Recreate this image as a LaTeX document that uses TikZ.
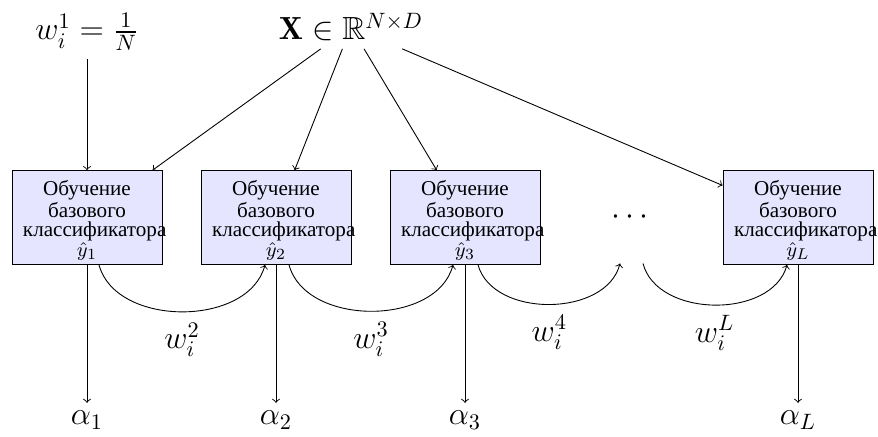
\documentclass[tikz,border=0pt]{standalone}
\usepackage{fontspec}
\usepackage{amssymb}
\newfontfamily\cyrfont{Liberation Serif}
\usetikzlibrary{calc}
\newcommand{\boxtext}[1]{\rule{0pt}{9.2pt}Обучение\\базового\\классификатора\\$\hat{y}_{#1}$}
\begin{document}
\begin{tikzpicture}[x=0.45pt,y=-0.45pt,
  box/.style={draw, fill=blue!10, minimum width=67.5pt, minimum height=40.95pt,
    text width=57.6pt, align=center, inner sep=2pt,
    font=\cyrfont\fontsize{9.5pt}{8.7pt}\selectfont},
  lbl/.style={font=\Large},
  arr/.style={->},
  wlbl/.style={font=\Large, midway, yshift=-12.6pt},
  curv/.style={->, bend right=75}
]
\useasboundingbox (0,0) rectangle (878,436);
\node[box] (b1) at (87,217.5) {\boxtext{1}};
\node[box] (b2) at (276,217.5) {\boxtext{2}};
\node[box] (b3) at (465,217.5) {\boxtext{3}};
\node[minimum height=40.95pt, font=\Large] (dots) at (630,217.5) {$\cdots$};
\node[box] (bL) at (798,217.5) {\boxtext{L}};

\node[lbl] (w1) at (87,32) {$w_i^1=\frac{1}{N}$};
\node[lbl] (X) at (351,27) {$\mathbf{X}\in\mathbb{R}^{N\times D}$};

\node[lbl] (a1) at (87,420) {$\alpha_1$};
\node[lbl] (a2) at (276,420) {$\alpha_2$};
\node[lbl] (a3) at (465,420) {$\alpha_3$};
\node[lbl] (aL) at (798,420) {$\alpha_L$};

\draw[arr] (w1) -- (b1);
\draw[arr] (X) -- (b1);
\draw[arr] (X) -- (b2);
\draw[arr] (X) -- (b3);
\draw[arr] (X) -- (bL);

\draw[arr] (b1) -- (a1);
\draw[arr] (b2) -- (a2);
\draw[arr] (b3) -- (a3);
\draw[arr] (bL) -- (aL);

\draw[curv] ($(b1.south)+(12,0)$) to node[wlbl] {$w_i^2$} ($(b2.south)+(-11,0)$);
\draw[curv] ($(b2.south)+(13,0)$) to node[wlbl] {$w_i^3$} ($(b3.south)+(-12,0)$);
\draw[curv] ($(b3.south)+(13,0)$) to node[wlbl] {$w_i^4$} ($(dots.south)+(-10,0)$);
\draw[curv] ($(dots.south)+(13,0)$) to node[wlbl] {$w_i^L$} ($(bL.south)+(-11,0)$);
\end{tikzpicture}
\end{document}
